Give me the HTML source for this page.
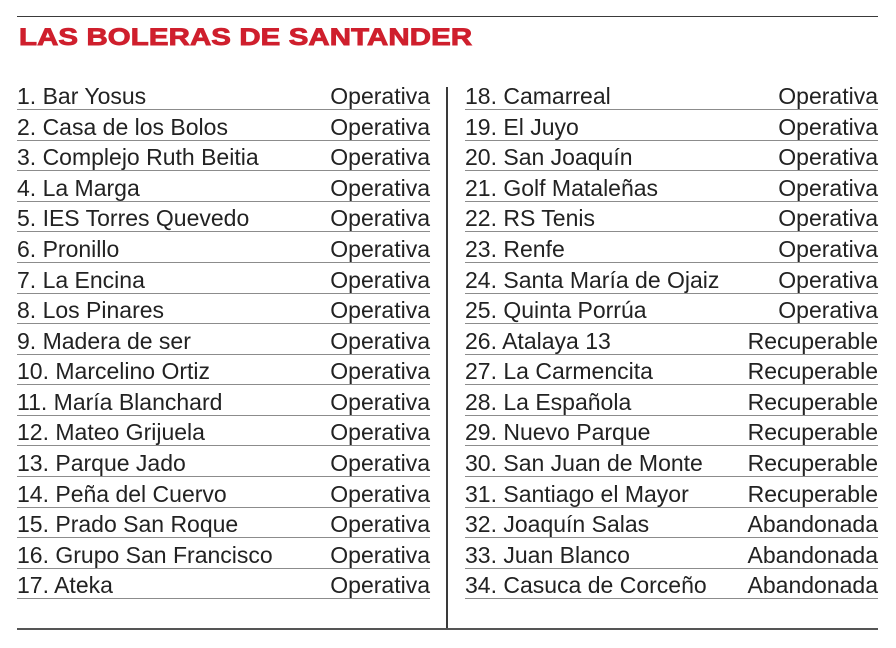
<!DOCTYPE html>
<html><head><meta charset="utf-8"><style>
html,body{margin:0;padding:0;background:#fff;}
body{width:896px;height:648px;position:relative;overflow:hidden;font-family:"Liberation Sans",sans-serif;}
.hl{position:absolute;background:#3a3a3a;}
.title{position:absolute;left:18.5px;top:22.5px;font-size:24.3px;font-weight:bold;color:#cf1f2d;white-space:nowrap;transform:scaleX(1.21);transform-origin:left top;line-height:30px;letter-spacing:0.1px;-webkit-text-stroke:0.9px #cf1f2d;}
.r{position:absolute;height:26px;line-height:26px;font-size:23px;color:#222;border-bottom:1.4px solid #8c8c8c;white-space:nowrap;}
.r span{position:absolute;right:0;top:0;}
.L{left:17px;width:413px;}
.R{left:465px;width:413px;}
</style></head><body>
<div class="hl" style="left:17px;top:15.5px;width:861px;height:1.5px;"></div>
<div class="title">LAS BOLERAS DE SANTANDER</div>
<div class="hl" style="left:446px;top:87px;width:1.6px;height:541px;"></div>
<div class="hl" style="left:17px;top:628px;width:861px;height:1.5px;background:#555;"></div>

<div class="r L" style="top:83px">1. Bar Yosus<span>Operativa</span></div>
<div class="r L" style="top:113.6px">2. Casa de los Bolos<span>Operativa</span></div>
<div class="r L" style="top:144.2px">3. Complejo Ruth Beitia<span>Operativa</span></div>
<div class="r L" style="top:174.7px">4. La Marga<span>Operativa</span></div>
<div class="r L" style="top:205.3px">5. IES Torres Quevedo<span>Operativa</span></div>
<div class="r L" style="top:235.9px">6. Pronillo<span>Operativa</span></div>
<div class="r L" style="top:266.5px">7. La Encina<span>Operativa</span></div>
<div class="r L" style="top:297.1px">8. Los Pinares<span>Operativa</span></div>
<div class="r L" style="top:327.6px">9. Madera de ser<span>Operativa</span></div>
<div class="r L" style="top:358.2px">10. Marcelino Ortiz<span>Operativa</span></div>
<div class="r L" style="top:388.8px">11. María Blanchard<span>Operativa</span></div>
<div class="r L" style="top:419.4px">12. Mateo Grijuela<span>Operativa</span></div>
<div class="r L" style="top:450px">13. Parque Jado<span>Operativa</span></div>
<div class="r L" style="top:480.5px">14. Peña del Cuervo<span>Operativa</span></div>
<div class="r L" style="top:511.1px">15. Prado San Roque<span>Operativa</span></div>
<div class="r L" style="top:541.7px">16. Grupo San Francisco<span>Operativa</span></div>
<div class="r L" style="top:572.3px">17. Ateka<span>Operativa</span></div>

<div class="r R" style="top:83px">18. Camarreal<span>Operativa</span></div>
<div class="r R" style="top:113.6px">19. El Juyo<span>Operativa</span></div>
<div class="r R" style="top:144.2px">20. San Joaquín<span>Operativa</span></div>
<div class="r R" style="top:174.7px">21. Golf Mataleñas<span>Operativa</span></div>
<div class="r R" style="top:205.3px">22. RS Tenis<span>Operativa</span></div>
<div class="r R" style="top:235.9px">23. Renfe<span>Operativa</span></div>
<div class="r R" style="top:266.5px">24. Santa María de Ojaiz<span>Operativa</span></div>
<div class="r R" style="top:297.1px">25. Quinta Porrúa<span>Operativa</span></div>
<div class="r R" style="top:327.6px">26. Atalaya 13<span>Recuperable</span></div>
<div class="r R" style="top:358.2px">27. La Carmencita<span>Recuperable</span></div>
<div class="r R" style="top:388.8px">28. La Española<span>Recuperable</span></div>
<div class="r R" style="top:419.4px">29. Nuevo Parque<span>Recuperable</span></div>
<div class="r R" style="top:450px">30. San Juan de Monte<span>Recuperable</span></div>
<div class="r R" style="top:480.5px">31. Santiago el Mayor<span>Recuperable</span></div>
<div class="r R" style="top:511.1px">32. Joaquín Salas<span>Abandonada</span></div>
<div class="r R" style="top:541.7px">33. Juan Blanco<span>Abandonada</span></div>
<div class="r R" style="top:572.3px">34. Casuca de Corceño<span>Abandonada</span></div>
</body></html>
